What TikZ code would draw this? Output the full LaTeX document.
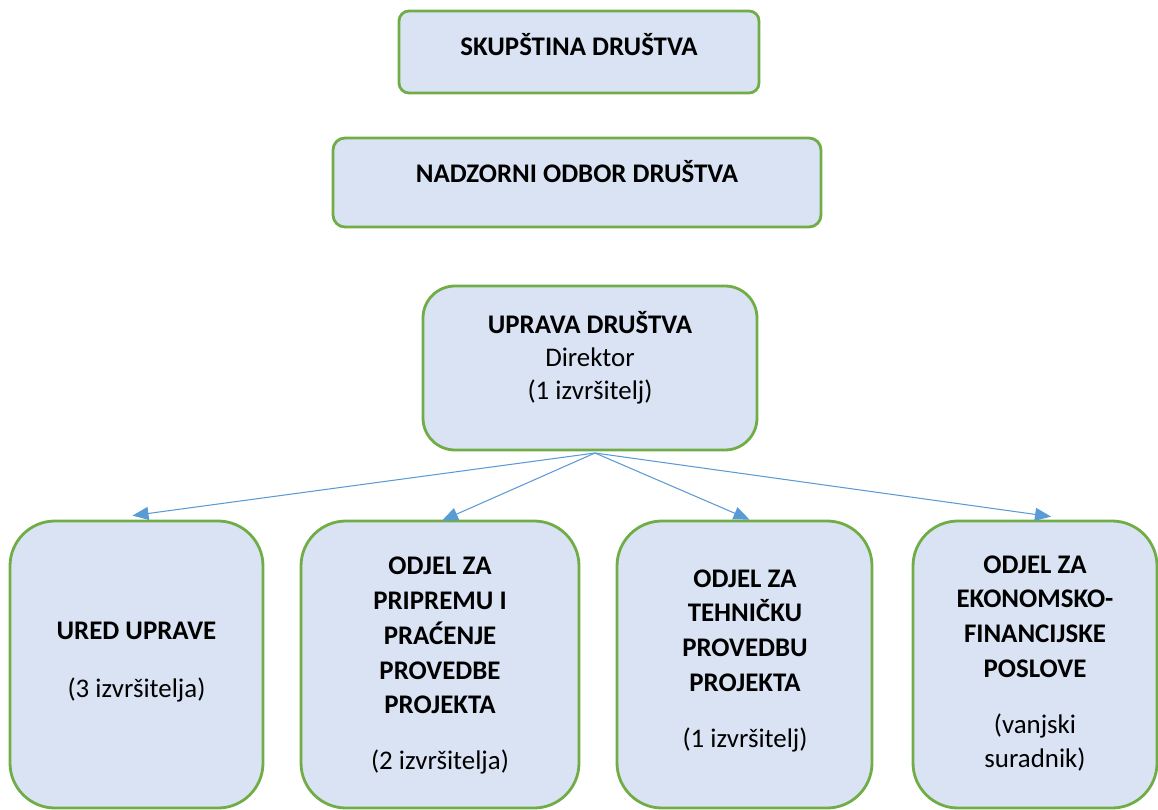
\documentclass[tikz,border=0pt]{standalone}
\usepackage{fontspec}
\setmainfont{Carlito}
\usetikzlibrary{arrows.meta}
\definecolor{boxfill}{HTML}{DAE3F3}
\definecolor{boxline}{HTML}{70AD47}
\definecolor{arrline}{HTML}{5B9BD5}
\def\px{0.02cm}
\begin{document}
\begin{tikzpicture}[x=\px, y=-\px,
		box/.style={draw=boxline, fill=boxfill, line width=1.6pt, inner sep=0pt},
		txt/.style={align=center, inner sep=0pt, font=\fontsize{15.3}{19.8}\selectfont},
		link/.style={draw=arrline, line width=0.6pt, -{Triangle[length=16*\px, width=13*\px]}}]
		\useasboundingbox (0, 0) rectangle (1158, 810);

		% boxes
		\node[box, minimum width=360*\px, minimum height=82*\px, rounded corners=10*\px] (skup) at (579, 52) {};
		\node[box, minimum width=488*\px, minimum height=89*\px, rounded corners=12*\px] (nadz) at (577, 182.5) {};
		\node[box, minimum width=334*\px, minimum height=164*\px, rounded corners=32*\px] (uprava) at (590, 368) {};
		\node[box, minimum width=253*\px, minimum height=287*\px, rounded corners=45*\px] (ured) at (136.5, 664.5) {};
		\node[box, minimum width=278*\px, minimum height=287*\px, rounded corners=45*\px] (pripr) at (440, 664.5) {};
		\node[box, minimum width=255*\px, minimum height=287*\px, rounded corners=45*\px] (tehn) at (744.5, 664.5) {};
		\node[box, minimum width=244*\px, minimum height=287*\px, rounded corners=45*\px] (ekon) at (1035, 664.5) {};

		% texts
		\node[txt] (skupt) at (579, 45) {\textbf{SKUPŠTINA DRUŠTVA}};
		\node[txt] (nadzt) at (577, 172) {\textbf{NADZORNI ODBOR DRUŠTVA}};
		\node[txt] (upravat) at (590, 358) {\textbf{UPRAVA DRUŠTVA}\\[-1pt] Direktor\\[-1pt] (1 izvršitelj)};
		\node[txt] (uredt) at (136.5, 631) {\textbf{URED UPRAVE}};
		\node[txt] (uredn) at (136.5, 690) {(3 izvršitelja)};
		\node[txt] (priprt) at (440, 635.5) {\textbf{ODJEL ZA}\\ \textbf{PRIPREMU I}\\ \textbf{PRAĆENJE}\\ \textbf{PROVEDBE}\\ \textbf{PROJEKTA}};
		\node[txt] (priprn) at (440, 762) {(2 izvršitelja)};
		\node[txt] (tehnt) at (745, 630.5) {\textbf{ODJEL ZA}\\ \textbf{TEHNIČKU}\\ \textbf{PROVEDBU}\\ \textbf{PROJEKTA}};
		\node[txt] (tehnn) at (745, 740) {(1 izvršitelj)};
		\node[txt] (ekont) at (1035, 616.5) {\textbf{ODJEL ZA}\\ \textbf{EKONOMSKO-}\\ \textbf{FINANCIJSKE}\\ \textbf{POSLOVE}};
		\node[txt] (ekonn) at (1035, 742.5) {(vanjski\\ suradnik)};

		\coordinate (hub) at (595, 453);

		\draw[link] (hub) -- ([xshift=-4*\px, yshift=4*\px]ured.north);
		\draw[link] (hub) -- ([xshift=2*\px, yshift=-1*\px]pripr.north);
		\draw[link] (hub) -- ([xshift=5*\px, yshift=0*\px]tehn.north);
		\draw[link] (hub) -- ([xshift=16*\px, yshift=3*\px]ekon.north);
	\end{tikzpicture}
\end{document}
